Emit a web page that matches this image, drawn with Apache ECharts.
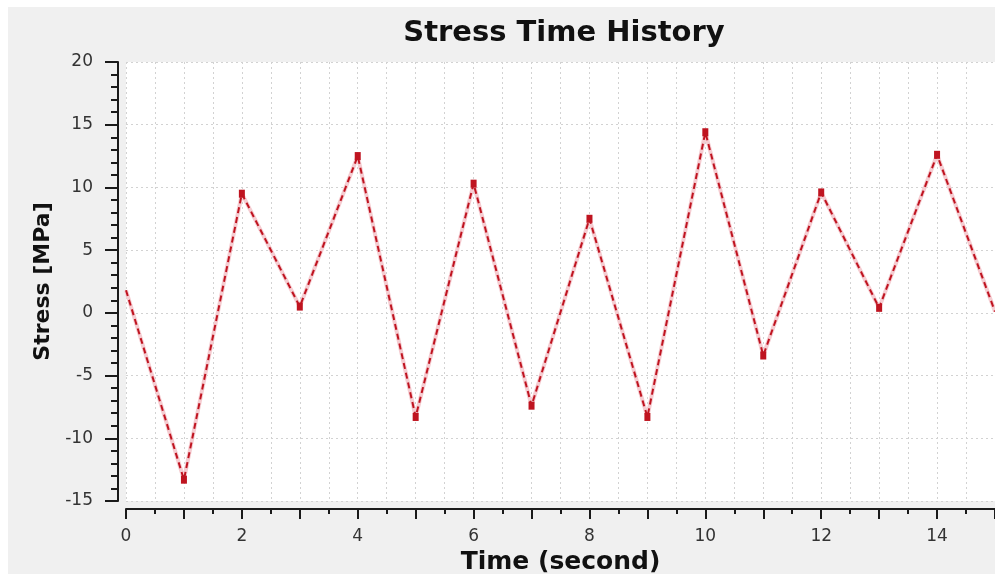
<!DOCTYPE html>
<html>
<head>
<meta charset="utf-8">
<script src="https://cdn.jsdelivr.net/npm/echarts@6/dist/echarts.min.js"></script>
<style>
  html, body { margin: 0; padding: 0; background: #ffffff; }
  #chart { width: 995px; height: 575px; }
</style>
</head>
<body>
<div id="chart"></div>
<script>
// Stress history: one reversal point per second
const timeSeconds = [0, 1, 2, 3, 4, 5, 6, 7, 8, 9, 10, 11, 12, 13, 14, 15];
const stressMPa   = [1.8, -13.3, 9.5, 0.5, 12.5, -8.3, 10.3, -7.4, 7.5, -8.3, 14.4, -3.4, 9.6, 0.4, 12.6, 0.1];
const xTickLabels = ['0', '2', '4', '6', '8', '10', '12', '14'];
const yTickLabels = ['-15', '-10', '-5', '0', '5', '10', '15', '20'];

const lastIndex = timeSeconds.length - 1;
// reversal points get a small marker, the two ends of the record do not
const points = timeSeconds.map((t, i) => ({
  value: [t, stressMPa[i]],
  symbolSize: (i === 0 || i === lastIndex) ? 0 : [6, 8]
}));
const halo = timeSeconds.map((t, i) => [t, stressMPa[i]]);

const dotted = { color: '#d2d2d2', width: 1, type: [2, 3] };
const tickFont = { fontFamily: 'DejaVu Sans', fontSize: 17, color: '#333333' };

const chart = echarts.init(document.getElementById('chart'), null, { renderer: 'canvas' });
chart.setOption({
  backgroundColor: 'transparent',
  animation: false,
  graphic: [{
    type: 'rect', z: -10, silent: true,
    shape: { x: 8, y: 7, width: 987, height: 567 },
    style: { fill: '#f0f0f0' }
  }],
  title: {
    text: 'Stress Time History',
    left: 559, top: 14, textAlign: 'center',
    textStyle: { fontFamily: 'DejaVu Sans', fontWeight: 'bold', fontSize: 29, color: '#111111' }
  },
  grid: {
    left: 126, right: 0, top: 62, bottom: 74,
    outerBoundsMode: 'none',
    show: true, backgroundColor: '#ffffff', borderWidth: 0
  },
  xAxis: {
    type: 'value', min: 0, max: 15, interval: 1,
    offset: 8,
    name: 'Time (second)', nameLocation: 'middle', nameGap: 38,
    nameTextStyle: { fontFamily: 'DejaVu Sans', fontWeight: 'bold', fontSize: 25, color: '#111111' },
    axisLine: { show: true, onZero: false, lineStyle: { color: '#1a1a1a', width: 2 } },
    axisTick: { show: true, length: 10, lineStyle: { color: '#1a1a1a', width: 2 } },
    minorTick: { show: true, splitNumber: 2, length: 5, lineStyle: { color: '#1a1a1a', width: 2 } },
    axisLabel: {
      ...tickFont, margin: 19,
      formatter: v => (xTickLabels.includes(String(v)) ? String(v) : '')
    },
    splitLine: { show: true, lineStyle: dotted },
    minorSplitLine: { show: true, lineStyle: dotted }
  },
  yAxis: {
    type: 'value', min: -15, max: 20, interval: 5,
    offset: 8,
    name: 'Stress [MPa]', nameLocation: 'middle', nameGap: 64, nameRotate: 90,
    nameTextStyle: { fontFamily: 'DejaVu Sans', fontWeight: 'bold', fontSize: 22, color: '#111111' },
    axisLine: { show: true, onZero: false, lineStyle: { color: '#1a1a1a', width: 2 } },
    axisTick: { show: true, length: 13, lineStyle: { color: '#1a1a1a', width: 2 } },
    minorTick: { show: true, splitNumber: 5, length: 7, lineStyle: { color: '#1a1a1a', width: 2 } },
    axisLabel: {
      ...tickFont, margin: 25,
      formatter: v => (yTickLabels.includes(String(v)) ? String(v) : '')
    },
    splitLine: { show: true, lineStyle: dotted }
  },
  series: [
    {
      name: 'halo', type: 'line', data: halo, silent: true,
      showSymbol: false, z: 2,
      lineStyle: { color: '#f5ccd1', width: 4 }
    },
    {
      name: 'Stress', type: 'line', data: points, z: 3,
      symbol: 'rect',
      itemStyle: { color: '#bf1420' },
      lineStyle: { color: '#bf1420', width: 2, type: [6, 4] }
    }
  ]
});
</script>
</body>
</html>
